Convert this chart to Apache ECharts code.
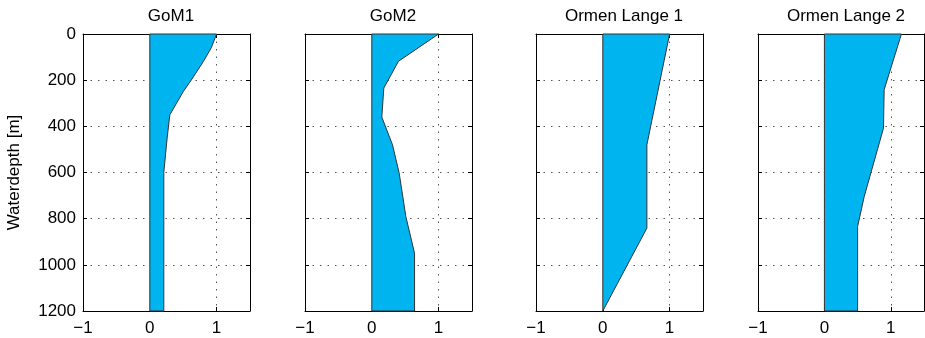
<!DOCTYPE html>
<html>
<head>
<meta charset="utf-8">
<script src="https://cdn.jsdelivr.net/npm/echarts@6/dist/echarts.min.js"></script>
<style>
html, body { margin: 0; padding: 0; background: #fff; }
#chart { width: 925px; height: 338px; }
</style>
</head>
<body>
<div id="chart"></div>
<script>
// panel titles
var titles = ['GoM1', 'GoM2', 'Ormen Lange 1', 'Ormen Lange 2'];

// depth [m] and normalised value for each profile
var gom1Depth = [0, 60, 120, 200, 250, 300, 350, 450, 600, 1200];
var gom1Value = [1.0, 0.92, 0.8, 0.62, 0.5, 0.4, 0.3, 0.26, 0.21, 0.21];

var gom2Depth = [0, 118, 234, 360, 480, 603, 791, 950, 1200];
var gom2Value = [1.0, 0.4, 0.18, 0.15, 0.31, 0.41, 0.51, 0.64, 0.64];

var ol1Depth = [0, 480, 841, 1200];
var ol1Value = [1.0, 0.66, 0.66, 0.0];

var ol2Depth = [0, 241, 408, 704, 834, 1200];
var ol2Value = [1.16, 0.9, 0.89, 0.6, 0.5, 0.5];

var depthTicks = [0, 200, 400, 600, 800, 1000, 1200];

var profiles = [
    [gom1Depth, gom1Value],
    [gom2Depth, gom2Value],
    [ol1Depth, ol1Value],
    [ol2Depth, ol2Value]
];

var chart = echarts.init(document.getElementById('chart'));

var lefts = [83, 305, 536, 758];
var font = 'Liberation Sans, Arial, sans-serif';
var txt = '#000';
var dotted = { color: '#555', width: 1, type: [1.5, 6] };
var box = { show: true, onZero: false, lineStyle: { color: '#000', width: 1 } };
var tick = { show: true, inside: true, length: 4, lineStyle: { color: '#000' } };

var grids = [], xAxes = [], yAxes = [], series = [], titleList = [];

for (var i = 0; i < 4; i++) {
    grids.push({ left: lefts[i], top: 34, width: i == 3 ? 166 : 167, height: 277 });
    titleList.push({
        text: titles[i],
        left: lefts[i] + 83, top: 3, textAlign: 'center',
        textStyle: { fontFamily: font, fontSize: 17, fontWeight: 'normal', color: txt }
    });
    // bottom x axis with labels
    xAxes.push({
        type: 'value', gridIndex: i, position: 'bottom',
        min: -1, max: 1.5, interval: 1,
        axisLine: box,
        axisTick: tick,
        axisLabel: {
            showMaxLabel: false, margin: 9,
            fontFamily: font, fontSize: 17, color: txt,
            formatter: function (v) { return String(v).replace('-', '\u2212'); }
        },
        splitLine: { show: true, lineStyle: dotted }
    });
    // top x axis, box only
    xAxes.push({
        type: 'value', gridIndex: i, position: 'top',
        min: -1, max: 1.5, interval: 1,
        axisLine: box,
        axisTick: tick,
        axisLabel: { show: false },
        splitLine: { show: false }
    });
    yAxes.push({
        type: 'value', gridIndex: i, position: 'left', inverse: true,
        min: 0, max: 1200, interval: 200,
        name: i == 0 ? 'Waterdepth [m]' : '',
        nameLocation: 'middle', nameGap: 60, nameRotate: 90,
        nameTextStyle: { fontFamily: font, fontSize: 17, color: txt },
        axisLine: box,
        axisTick: tick,
        axisLabel: {
            show: i == 0, margin: 7,
            fontFamily: font, fontSize: 17, color: txt,
            formatter: function (v) { return depthTicks.indexOf(v) >= 0 ? String(v) : ''; }
        },
        splitLine: { show: true, lineStyle: dotted }
    });
    yAxes.push({
        type: 'value', gridIndex: i, position: 'right', inverse: true,
        min: 0, max: 1200, interval: 200,
        axisLine: box,
        axisTick: tick,
        axisLabel: { show: false },
        splitLine: { show: false }
    });

    var depth = profiles[i][0], value = profiles[i][1];
    var data = [];
    for (var k = 0; k < depth.length; k++) data.push([value[k], depth[k]]);

    series.push({
        type: 'custom',
        xAxisIndex: i * 2, yAxisIndex: i * 2,
        data: data,
        renderItem: (function (pts) {
            return function (params, api) {
                if (params.dataIndex !== 0) return;
                var poly = [api.coord([0, pts[0][1]])];
                for (var j = 0; j < pts.length; j++) poly.push(api.coord(pts[j]));
                poly.push(api.coord([0, pts[pts.length - 1][1]]));
                return {
                    type: 'polygon',
                    shape: { points: poly },
                    style: { fill: '#00b4f0', stroke: '#333', lineWidth: 1 }
                };
            };
        })(data),
        z: 1
    });
}

var option = {
    animation: false,
    title: titleList,
    grid: grids,
    xAxis: xAxes,
    yAxis: yAxes,
    series: series
};

chart.setOption(option);
</script>
</body>
</html>
